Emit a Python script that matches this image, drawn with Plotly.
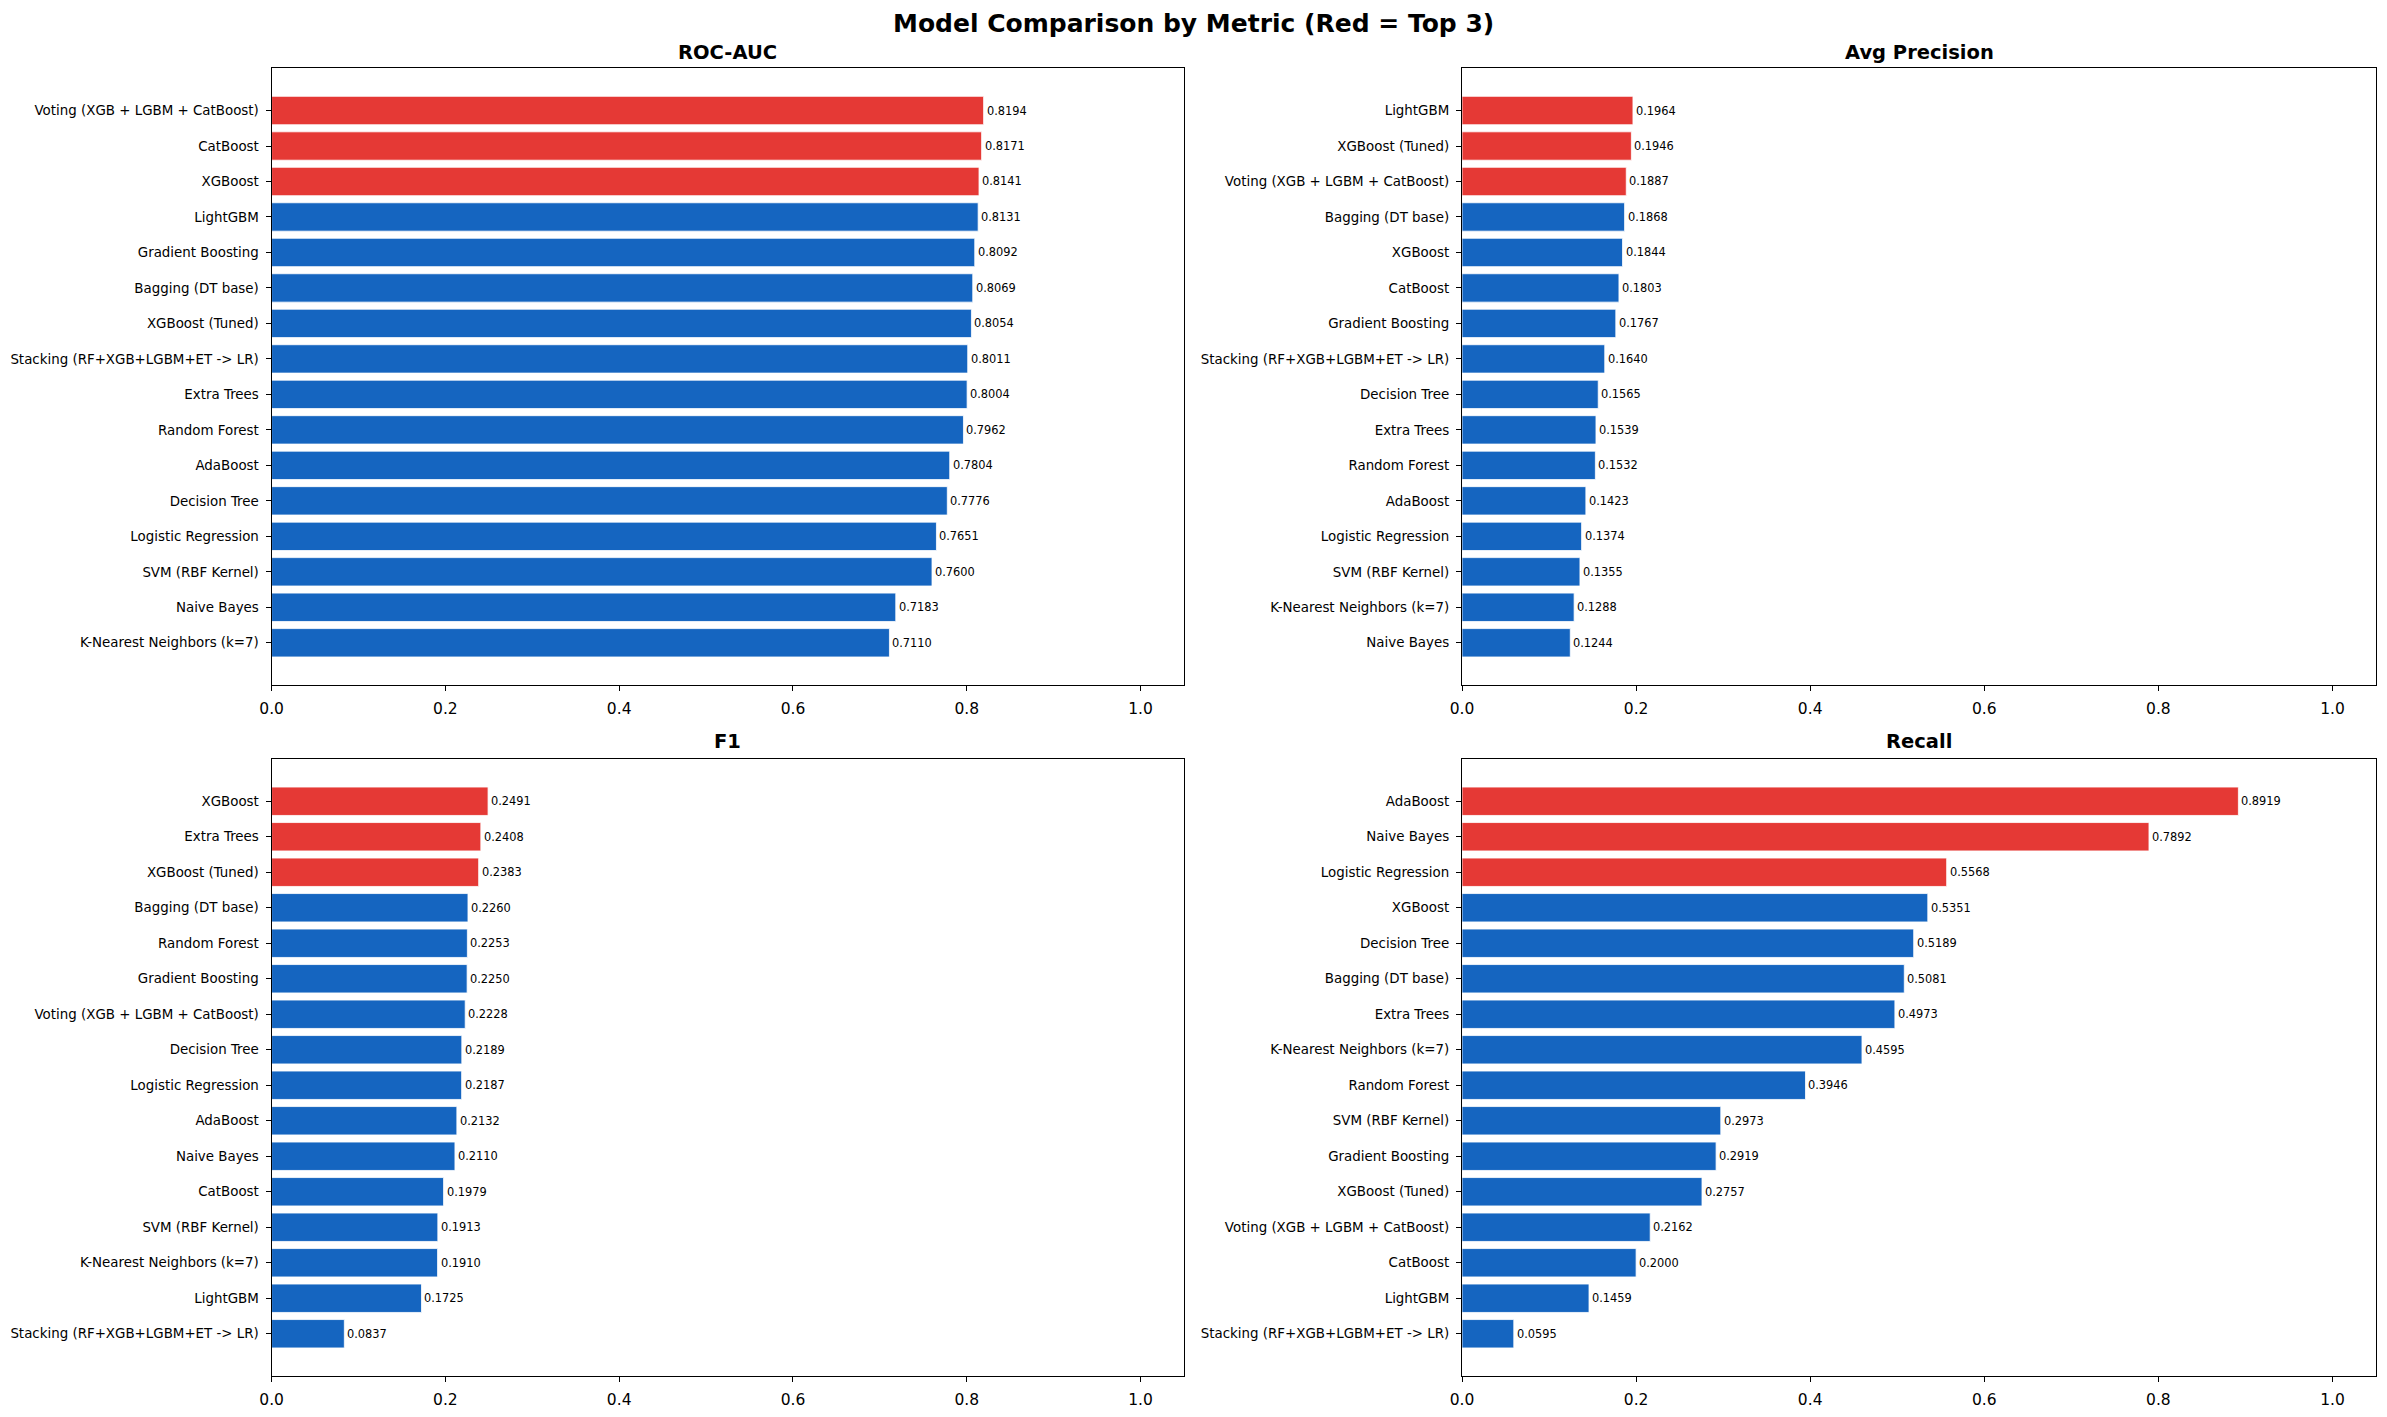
import plotly.graph_objects as go

# ---- Data (top-to-bottom order as shown in each panel) ----
roc_models = ["Voting (XGB + LGBM + CatBoost)", "CatBoost", "XGBoost", "LightGBM",
              "Gradient Boosting", "Bagging (DT base)", "XGBoost (Tuned)",
              "Stacking (RF+XGB+LGBM+ET -> LR)", "Extra Trees", "Random Forest",
              "AdaBoost", "Decision Tree", "Logistic Regression", "SVM (RBF Kernel)",
              "Naive Bayes", "K-Nearest Neighbors (k=7)"]
roc_values = [0.8194, 0.8171, 0.8141, 0.8131, 0.8092, 0.8069, 0.8054, 0.8011,
              0.8004, 0.7962, 0.7804, 0.7776, 0.7651, 0.7600, 0.7183, 0.7110]

ap_models = ["LightGBM", "XGBoost (Tuned)", "Voting (XGB + LGBM + CatBoost)",
             "Bagging (DT base)", "XGBoost", "CatBoost", "Gradient Boosting",
             "Stacking (RF+XGB+LGBM+ET -> LR)", "Decision Tree", "Extra Trees",
             "Random Forest", "AdaBoost", "Logistic Regression", "SVM (RBF Kernel)",
             "K-Nearest Neighbors (k=7)", "Naive Bayes"]
ap_values = [0.1964, 0.1946, 0.1887, 0.1868, 0.1844, 0.1803, 0.1767, 0.1640,
             0.1565, 0.1539, 0.1532, 0.1423, 0.1374, 0.1355, 0.1288, 0.1244]

f1_models = ["XGBoost", "Extra Trees", "XGBoost (Tuned)", "Bagging (DT base)",
             "Random Forest", "Gradient Boosting", "Voting (XGB + LGBM + CatBoost)",
             "Decision Tree", "Logistic Regression", "AdaBoost", "Naive Bayes",
             "CatBoost", "SVM (RBF Kernel)", "K-Nearest Neighbors (k=7)", "LightGBM",
             "Stacking (RF+XGB+LGBM+ET -> LR)"]
f1_values = [0.2491, 0.2408, 0.2383, 0.2260, 0.2253, 0.2250, 0.2228, 0.2189,
             0.2187, 0.2132, 0.2110, 0.1979, 0.1913, 0.1910, 0.1725, 0.0837]

rec_models = ["AdaBoost", "Naive Bayes", "Logistic Regression", "XGBoost",
              "Decision Tree", "Bagging (DT base)", "Extra Trees",
              "K-Nearest Neighbors (k=7)", "Random Forest", "SVM (RBF Kernel)",
              "Gradient Boosting", "XGBoost (Tuned)", "Voting (XGB + LGBM + CatBoost)",
              "CatBoost", "LightGBM", "Stacking (RF+XGB+LGBM+ET -> LR)"]
rec_values = [0.8919, 0.7892, 0.5568, 0.5351, 0.5189, 0.5081, 0.4973, 0.4595,
              0.3946, 0.2973, 0.2919, 0.2757, 0.2162, 0.2000, 0.1459, 0.0595]

panels = [
    ("ROC-AUC", roc_models, roc_values),
    ("Avg Precision", ap_models, ap_values),
    ("F1", f1_models, f1_values),
    ("Recall", rec_models, rec_values),
]
x_ticks = [0.0, 0.2, 0.4, 0.6, 0.8, 1.0]
x_tick_text = ["0.0", "0.2", "0.4", "0.6", "0.8", "1.0"]

RED = "#e53935"
BLUE = "#1565c0"
FONT = "DejaVu Sans"

W, H = 2387, 1417
x_domains = [(271.6 / W, 1184 / W), (1462 / W, 2376 / W)]
y_domains = [(1 - 685 / H, 1 - 68.3 / H), (1 - 1376 / H, 1 - 759 / H)]

fig = go.Figure()
layout = dict(
    width=W, height=H, margin=dict(l=0, r=0, t=0, b=0, autoexpand=False),
    paper_bgcolor="white", plot_bgcolor="white", showlegend=False,
    font=dict(family=FONT, color="black"),
)
annotations = []

for i, (title, models, values) in enumerate(panels):
    r, c = divmod(i, 2)
    n = len(models)
    ypos = list(range(n))[::-1]
    ranked = sorted(range(n), key=lambda k: values[k], reverse=True)[:3]
    colors = [RED if k in ranked else BLUE for k in range(n)]
    xa = "x" if i == 0 else f"x{i+1}"
    ya = "y" if i == 0 else f"y{i+1}"
    fig.add_trace(go.Bar(
        x=values, y=ypos, orientation="h", width=0.8,
        marker=dict(color=colors, line=dict(color="white", width=0.8)),
        xaxis=xa, yaxis=ya, hoverinfo="skip",
    ))
    for v, yp in zip(values, ypos):
        annotations.append(dict(
            text=f"{v:.4f}", x=v, y=yp, xref=xa, yref=ya,
            xanchor="left", yanchor="middle", xshift=2, showarrow=False,
            borderpad=0,
            font=dict(family=FONT, size=11.4, color="black"),
        ))
    xk = "xaxis" if i == 0 else f"xaxis{i+1}"
    yk = "yaxis" if i == 0 else f"yaxis{i+1}"
    layout[xk] = dict(
        domain=x_domains[c], anchor=ya, range=[0, 1.05], automargin=False,
        tickvals=x_ticks, ticktext=x_tick_text,
        showline=True, linecolor="black", linewidth=1.2, mirror=True,
        ticks="outside", ticklen=5, tickwidth=1.2, tickcolor="black",
        showgrid=False, zeroline=False, ticklabelstandoff=4,
        tickfont=dict(family=FONT, size=15.5, color="black"), fixedrange=True,
    )
    layout[yk] = dict(
        domain=y_domains[r], anchor=xa, range=[-1.19, n - 1 + 1.19], automargin=False,
        tickvals=ypos, ticktext=models,
        showline=True, linecolor="black", linewidth=1.2, mirror=True,
        ticks="outside", ticklen=5, tickwidth=1.2, tickcolor="black",
        showgrid=False, zeroline=False, ticklabelstandoff=4,
        tickfont=dict(family=FONT, size=13.4, color="black"), fixedrange=True,
    )
    cx = (x_domains[c][0] + x_domains[c][1]) / 2
    ty = 1 - (52 if r == 0 else 741.7) / H
    annotations.append(dict(
        text=f"<b>{title}</b>", x=cx, y=ty, xref="paper", yref="paper",
        xanchor="center", yanchor="middle", showarrow=False,
        font=dict(family=FONT, size=19.5, color="black"),
    ))

annotations.append(dict(
    text="<b>Model Comparison by Metric (Red = Top 3)</b>",
    x=0.5, y=1 - 23 / H, xref="paper", yref="paper",
    xanchor="center", yanchor="middle", showarrow=False,
    font=dict(family=FONT, size=25, color="black"),
))
layout["annotations"] = annotations
fig.update_layout(**layout)
fig.write_html("out.html")
